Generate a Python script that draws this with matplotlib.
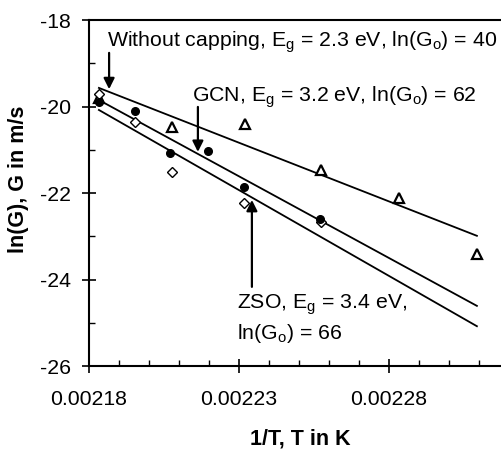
import numpy as np
import matplotlib
matplotlib.use("Agg")
import matplotlib.pyplot as plt
from matplotlib.ticker import MultipleLocator, FixedLocator

# --- data ---
# 1/T values (1/K)
X_TRI = [0.0021833, 0.0022077, 0.0022320, 0.0022573, 0.0022833, 0.0023093]
Y_TRI = [-19.80, -20.47, -20.40, -21.47, -22.12, -23.41]   # without capping

X_CIRC = [0.0021833, 0.0021953, 0.0022070, 0.0022197, 0.0022317, 0.0022570]
Y_CIRC = [-19.90, -20.10, -21.08, -21.03, -21.86, -22.60]  # GCN

X_DIAM = [0.0021833, 0.0021953, 0.0022077, 0.0022317, 0.0022573]
Y_DIAM = [-19.71, -20.36, -21.51, -22.23, -22.67]          # ZSO

# fitted lines (end points)
FIT_X = [0.0021833, 0.0023093]
FIT_TOP = [-19.57, -22.99]
FIT_MID = [-19.85, -24.61]
FIT_BOT = [-20.08, -25.08]

X_TICKS = [0.00218, 0.00223, 0.00228]
X_TICK_LABELS = ["0.00218", "0.00223", "0.00228"]

plt.rcParams['font.family'] = ['Liberation Sans', 'DejaVu Sans']
plt.rcParams['mathtext.fontset'] = 'custom'
plt.rcParams['mathtext.rm'] = 'Liberation Sans'
plt.rcParams['mathtext.it'] = 'Liberation Sans'
plt.rcParams['axes.unicode_minus'] = False

FS = 15.3

fig = plt.figure(figsize=(5.01, 4.49), dpi=100)
ax = fig.add_axes([89 / 501, 83 / 449, 420 / 501, 346 / 449])

# lines
for fy in (FIT_TOP, FIT_MID, FIT_BOT):
    ax.plot(FIT_X, fy, color='k', lw=1.3)

# markers
ax.plot(X_TRI, Y_TRI, ls='none', marker='^', ms=6.5, mfc='white', mec='k', mew=1.6)
ax.plot(X_DIAM, Y_DIAM, ls='none', marker='D', ms=5, mfc='white', mec='k', mew=1.0)
ax.plot(X_CIRC, Y_CIRC, ls='none', marker='o', ms=5.5, mfc='k', mec='k')

# labels with arrows
arr = dict(arrowstyle='-|>', lw=1.6, color='k', mutation_scale=16, shrinkA=0, shrinkB=0)
ax.annotate('', xy=(0.0021867, -19.60), xytext=(0.0021867, -18.76), arrowprops=arr)
ax.annotate('', xy=(0.0022163, -21.05), xytext=(0.0022163, -20.01), arrowprops=arr)
ax.annotate('', xy=(0.0022343, -22.16), xytext=(0.0022343, -24.17), arrowprops=arr)

ax.text(0.0021860, -18.62, r'Without capping, E$_\mathregular{g}$ = 2.3 eV, ln(G$_\mathregular{o}$) = 40',
        fontsize=FS, va='baseline', ha='left')
ax.text(0.0022143, -19.90, r'GCN, E$_\mathregular{g}$ = 3.2 eV, ln(G$_\mathregular{o}$) = 62',
        fontsize=FS, va='baseline', ha='left')
ax.text(0.0022293, -24.68, r'ZSO, E$_\mathregular{g}$ = 3.4 eV,',
        fontsize=FS, va='baseline', ha='left')
ax.text(0.0022293, -25.38, r'ln(G$_\mathregular{o}$) = 66',
        fontsize=FS, va='baseline', ha='left')

# axes
ax.set_xlim(0.00218, 0.00232)
ax.set_ylim(-26, -18)
ax.xaxis.set_major_locator(FixedLocator(X_TICKS))
ax.set_xticklabels(X_TICK_LABELS)
ax.xaxis.set_minor_locator(MultipleLocator(0.00001))
ax.yaxis.set_major_locator(MultipleLocator(2))
ax.yaxis.set_minor_locator(MultipleLocator(1))
ax.tick_params(which='major', direction='inout', length=10, width=1.2, labelsize=FS)
ax.tick_params(which='minor', direction='in', length=4, width=1.0)
ax.tick_params(axis='x', which='major', pad=12)
ax.tick_params(axis='y', which='major', pad=8)
ax.spines['right'].set_visible(False)
for s in ('left', 'bottom', 'top'):
    ax.spines[s].set_linewidth(1.5)

ax.set_xlabel('1/T, T in K', fontsize=15.5, fontweight='bold')
ax.set_ylabel('ln(G), G in m/s', fontsize=15.5, fontweight='bold')
ax.xaxis.set_label_coords((300 - 89) / 420, -(428 - 366) / 346)
ax.yaxis.set_label_coords(-(89 - 29) / 420, (366 - 179) / 346)

fig.savefig('out.png', dpi=100)
